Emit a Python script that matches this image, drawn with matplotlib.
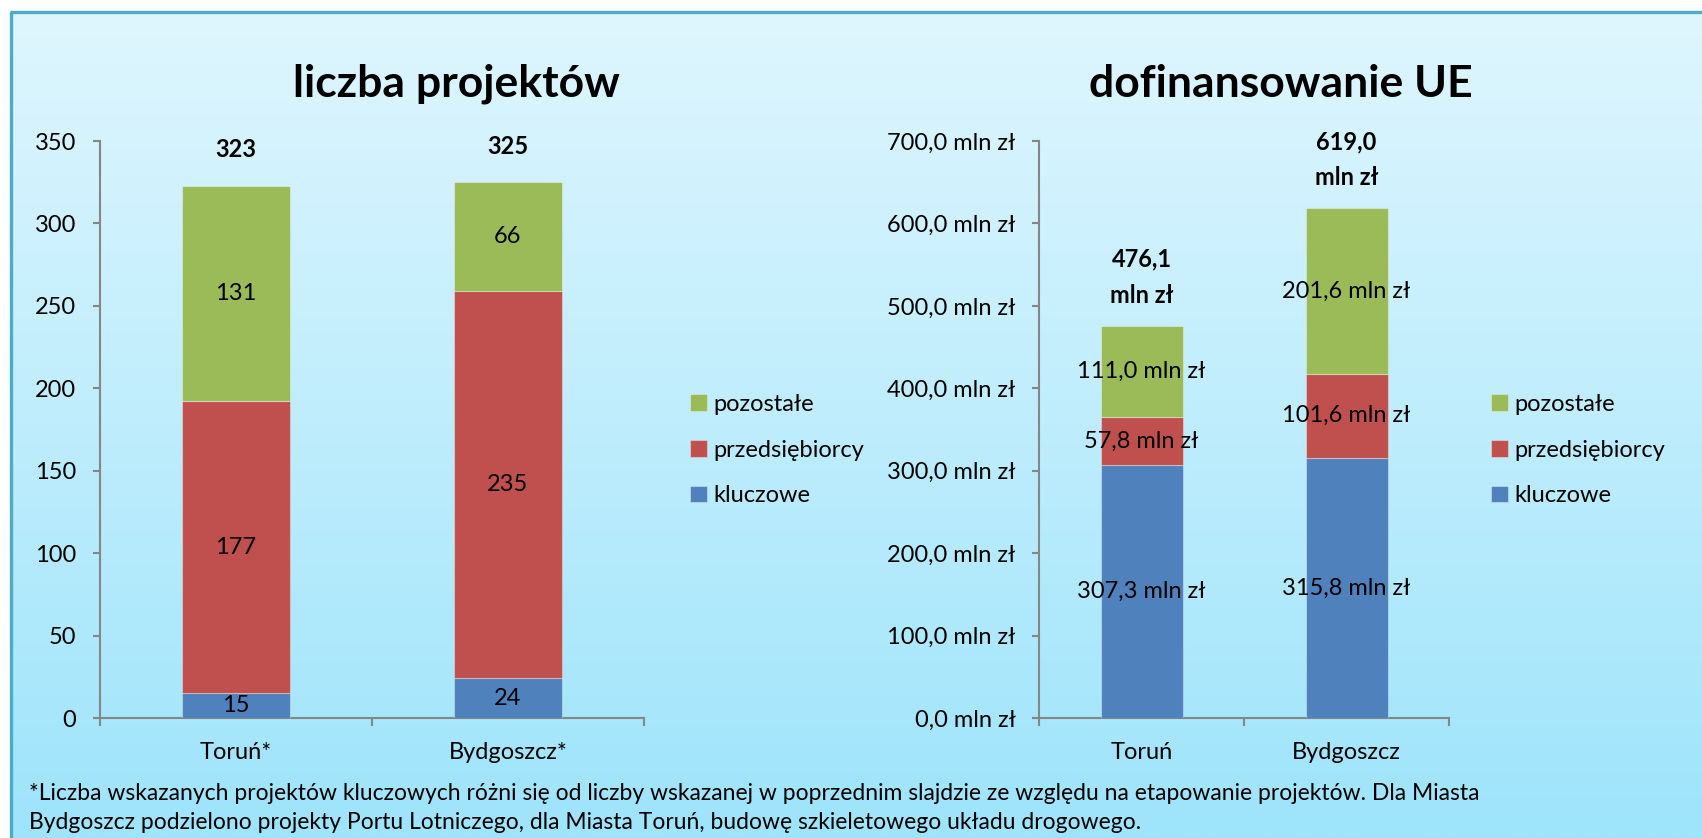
import numpy as np
import matplotlib
matplotlib.use("Agg")
import matplotlib.pyplot as plt
from matplotlib.ticker import FuncFormatter, FixedLocator

plt.rcParams['font.family'] = ['Lato', 'DejaVu Sans']

# ---------------- data ----------------
cities_left = ["Toruń*", "Bydgoszcz*"]
cities_right = ["Toruń", "Bydgoszcz"]
series_names = ["kluczowe", "przedsiębiorcy", "pozostałe"]
projects_kluczowe = [15, 24]
projects_przeds = [177, 235]
projects_pozostale = [131, 66]
funds_kluczowe = [307.3, 315.8]
funds_przeds = [57.8, 101.6]
funds_pozostale = [111.0, 201.6]
left_yticks = [0, 50, 100, 150, 200, 250, 300, 350]
right_yticks = [0, 100, 200, 300, 400, 500, 600, 700]
title_left = "liczba projektów"
title_right = "dofinansowanie UE"
footnote_1 = ("*Liczba wskazanych projektów kluczowych różni się od liczby wskazanej "
              "w poprzednim slajdzie ze względu na etapowanie projektów. Dla Miasta")
footnote_2 = ("Bydgoszcz podzielono projekty Portu Lotniczego, dla Miasta Toruń, "
              "budowę szkieletowego układu drogowego.")

colors = ["#4F81BD", "#C0504D", "#9BBB59"]
axis_gray = "#868686"

W, H = 1702, 838
fig = plt.figure(figsize=(W / 100, H / 100), dpi=100)
fig.patch.set_facecolor("white")

# background gradient panel
bg = fig.add_axes([0, 0, 1, 1], zorder=-10)
bg.set_xlim(0, W)
bg.set_ylim(H, 0)
bg.axis("off")
top = np.array([223, 246, 254]) / 255
bot = np.array([158, 228, 251]) / 255
t = np.linspace(0, 1, 256)[:, None]
grad = (top[None, :] * (1 - t) + bot[None, :] * t)[:, None, :]
bg.imshow(grad, extent=[10, W, H, 12], aspect="auto", interpolation="bilinear")
bg.plot([10, W], [12.5, 12.5], color="#4BACC6", lw=2.4, solid_capstyle="butt")
bg.plot([10.5, 10.5], [12, H], color="#4BACC6", lw=2.4, solid_capstyle="butt")
bg.set_xlim(0, W)
bg.set_ylim(H, 0)


def px_axes(x0, x1, y_top, y_bottom):
    return fig.add_axes([x0 / W, 1 - y_bottom / H, (x1 - x0) / W, (y_bottom - y_top) / H])


def style_axes(ax, ylim, yticks, fmt, xlabels):
    ax.set_facecolor("none")
    ax.set_xlim(-0.5, 1.5)
    ax.set_ylim(*ylim)
    for s in ["top", "right"]:
        ax.spines[s].set_visible(False)
    for s in ["left", "bottom"]:
        ax.spines[s].set_color(axis_gray)
        ax.spines[s].set_linewidth(1.5)
    ax.yaxis.set_major_locator(FixedLocator(yticks))
    ax.yaxis.set_major_formatter(FuncFormatter(fmt))
    ax.tick_params(axis="y", direction="out", length=5, width=1.5, color=axis_gray,
                   labelsize=17, pad=12, labelcolor="black")
    ax.set_xticks([0, 1])
    ax.set_xticklabels(xlabels)
    ax.tick_params(axis="x", which="major", length=0, labelsize=17, pad=17, labelcolor="black")
    ax.set_xticks([-0.5, 0.5, 1.5], minor=True)
    ax.tick_params(axis="x", which="minor", direction="out", length=6, width=1.5, color=axis_gray)
    for sp in ax.spines.values():
        sp.set_zorder(0.5)


def stacked(ax, series, labeler):
    x = np.arange(2)
    bottom = np.zeros(2)
    conts = []
    for vals, col, name in zip(series, colors, series_names):
        c = ax.bar(x, vals, 0.4, bottom=bottom, color=col, label=name, zorder=2,
                   edgecolor=(1, 1, 1, 0.35), linewidth=0.8)
        ax.bar_label(c, labels=[labeler(v) for v in vals], label_type="center",
                     fontsize=17, color="black", zorder=3)
        bottom = bottom + np.array(vals)
        conts.append(c)
    return conts, bottom


# ---------------- left chart ----------------
axL = px_axes(100, 644, 141, 718)
style_axes(axL, (0, 350), left_yticks, lambda v, p: f"{int(v)}", cities_left)
contsL, totL = stacked(axL, [projects_kluczowe, projects_przeds, projects_pozostale],
                       lambda v: f"{v:d}")
for i, tv in enumerate(totL):
    axL.annotate(f"{int(tv)}", xy=(i, tv), xytext=(0, 36), textcoords="offset pixels",
                 ha="center", va="center", fontsize=17, fontweight="bold")
fig.text(456 / W, 1 - 84 / H, title_left, ha="center", va="center",
         fontsize=32, fontweight="bold")
hL, lL = axL.get_legend_handles_labels()
fig.legend(hL[::-1], lL[::-1], loc="center left", bbox_to_anchor=(690 / W, 1 - 450 / H),
           frameon=False, fontsize=17, handlelength=0.7, handleheight=0.7,
           handletextpad=0.3, labelspacing=1.05, borderpad=0, borderaxespad=0)

# ---------------- right chart ----------------
def mln(v):
    return f"{v:.1f}".replace(".", ",") + " mln zł"


axR = px_axes(1039, 1449, 141, 718)
style_axes(axR, (0, 700), right_yticks, lambda v, p: mln(v), cities_right)
contsR, totR = stacked(axR, [funds_kluczowe, funds_przeds, funds_pozostale], mln)
for i, tv in enumerate(totR):
    axR.annotate(f"{tv:.1f}".replace(".", ",") + "\nmln zł", xy=(i, tv), xytext=(0, 48),
                 textcoords="offset pixels", ha="center", va="center", fontsize=17,
                 fontweight="bold", linespacing=1.7)
fig.text(1281 / W, 1 - 84 / H, title_right, ha="center", va="center",
         fontsize=32, fontweight="bold")
hR, lR = axR.get_legend_handles_labels()
fig.legend(hR[::-1], lR[::-1], loc="center left", bbox_to_anchor=(1491 / W, 1 - 450 / H),
           frameon=False, fontsize=17, handlelength=0.7, handleheight=0.7,
           handletextpad=0.3, labelspacing=1.05, borderpad=0, borderaxespad=0)

# ---------------- footnote ----------------
fig.text(29 / W, 1 - 793 / H, footnote_1, ha="left", va="center", fontsize=16.5)
fig.text(29 / W, 1 - 822 / H, footnote_2, ha="left", va="center", fontsize=16.5)

fig.savefig("out.png", dpi=100, facecolor=fig.get_facecolor())
